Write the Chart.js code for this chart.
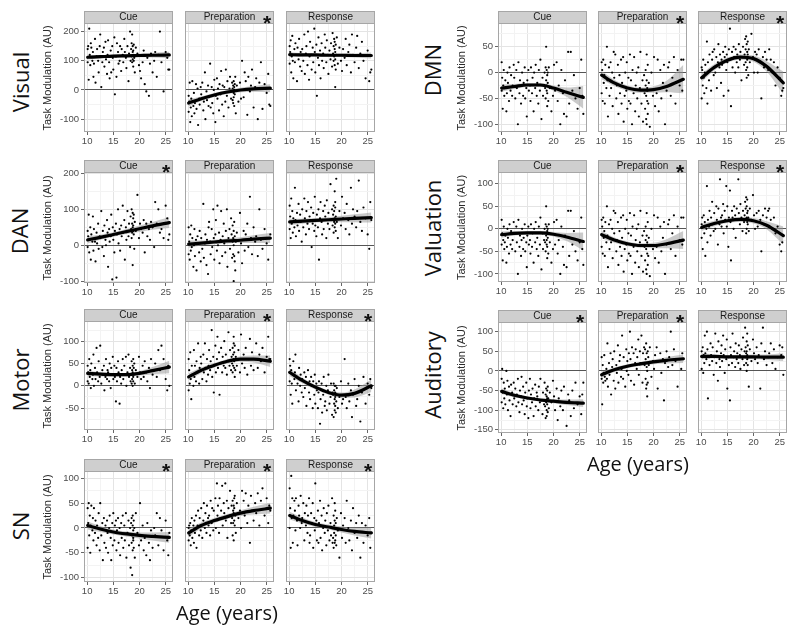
<!DOCTYPE html>
<html>
<head>
<meta charset="utf-8">
<title>Task modulation by age</title>
<script src="https://cdn.jsdelivr.net/npm/chart.js@4.4.1/dist/chart.umd.min.js"></script>
<style>
    body { margin: 0; background: #fff; }
    #fig { position: relative; width: 800px; height: 631px; overflow: hidden; }
    #fig canvas { position: absolute; }
    .lab { position: absolute; font-family: 'Open Sans', sans-serif; color: #111; white-space: nowrap; transform: translate(-50%, -50%); }
    .row { font-size: 22px; transform: translate(-50%, -50%) rotate(-90deg); }
    .age { font-size: 20px; }
</style>
</head>
<body>
<div id="fig"></div>
<script>
// ages of the subjects (shared by every panel)
const ages = [
    10.1, 10.1, 10.2, 10.3, 10.4, 10.5, 10.6, 10.7, 10.8, 11.0,
    11.1, 11.2, 11.3, 11.5, 11.6, 11.8, 11.9, 12.1, 12.2, 12.4,
    12.5, 12.7, 12.9, 13.0, 13.2, 13.3, 13.5, 13.6, 13.8, 13.9,
    14.0, 14.2, 14.3, 14.5, 14.6, 14.8, 14.9, 15.0, 15.2, 15.3,
    15.5, 15.6, 15.7, 15.9, 16.0, 16.2, 16.3, 16.5, 16.6, 16.8,
    16.9, 17.1, 17.2, 17.4, 17.5, 17.7, 17.9, 18.0, 18.2, 18.3,
    18.4, 18.5, 18.5, 18.6, 18.6, 18.7, 18.7, 18.7, 18.8, 18.8,
    18.8, 18.9, 18.9, 19.0, 19.1, 19.3, 19.6, 19.9, 20.1, 20.3,
    20.6, 20.8, 21.0, 21.3, 21.5, 21.8, 22.0, 22.2, 22.5, 22.8,
    23.0, 23.3, 23.6, 23.9, 24.2, 24.6, 25.0, 25.3, 25.5, 25.7
]
// ages where the fitted curves were read
const fitAges = [10.1, 12.5, 15, 17.5, 20, 22.5, 25.7]
const facets = ['Cue', 'Preparation', 'Response']
const xTicks = [10, 15, 20, 25]

// ---- Visual
const visualTicks = [-100, 0, 100, 200]
const visualStars = [false, true, false]
const visualCue = [
    140, 95, 150, 35, 210, 120, 85, 160, 145, 100,
    130, 45, 90, 175, 25, 115, 140, 100, 60, 150,
    190, 10, 95, 130, 145, 80, 165, 105, 55, 120,
    170, 95, 40, 135, 60, 150, 110, 70, 180, -15,
    115, 45, 160, 130, 90, 100, 150, 65, 140, 120,
    95, 175, 130, 110, 75, 150, 30, 125, 200, 100,
    140, 160, 115, 190, 95, 130, 105, 150, 120, 80,
    135, 155, 100, 110, 60, 145, 125, 85, 65, 40,
    95, 135, 20, -5, 110, -20, 90, 125, 60, 100,
    130, 45, 120, 200, 95, -5, 130, 110, 70, 70
]
const visualPrep = [
    -20, -75, -40, 25, -110, -60, -30, -90, 30, -55,
    -10, -80, -45, 20, -65, 5, -120, -30, -50, 10,
    -15, 25, -70, -40, 60, -100, -5, -35, 15, -55,
    -25, 90, -60, 10, -45, -80, 0, 35, -110, -20,
    40, -30, 5, -70, 20, -15, 65, -50, 15, -90,
    10, -40, 70, -20, 30, -60, 5, 45, -30, -5,
    25, -35, 5, -45, 15, -10, 30, -25, 10, -55,
    0, 20, -15, 45, -80, 15, -40, 25, -30, 100,
    -25, 60, 30, -85, 45, -5, 15, 70, -60, 10,
    40, -100, 25, 95, -65, 20, -10, 55, -50, -55
]
const visualResp = [
    150, 90, 130, 170, 60, 115, 185, 100, 40, 140,
    95, 160, 120, 30, 145, 105, 175, 80, 130, 65,
    140, 100, 190, 55, 125, 150, 85, 200, 35, 115,
    165, 120, 70, 145, 95, 210, 130, 60, 155, -20,
    110, 180, 85, 135, 40, 160, 100, 125, 75, 190,
    145, 95, 170, 120, 55, 135, 105, 160, 80, 195,
    125, 150, 100, 175, 115, 85, 140, 165, 10, 130,
    105, 155, 70, 120, 180, 90, 145, 100, 65, 140,
    110, 175, 85, 130, 155, 60, 190, 120, 95, 145,
    185, 75, 125, 165, 100, 40, 135, 30, 60, 70
]
const visualCueFit = [112, 114, 116, 117, 118, 119, 120]
const visualCueLo = [104, 108, 111, 112, 112, 111, 109]
const visualCueHi = [120, 120, 121, 122, 124, 127, 131]
const visualPrepFit = [-45, -30, -17, -7, 0, 4, 6]
const visualPrepLo = [-57, -38, -24, -14, -8, -6, -8]
const visualPrepHi = [-33, -22, -10, 0, 8, 14, 20]
const visualRespFit = [121, 120, 120, 119, 119, 118, 118]
const visualRespLo = [113, 114, 115, 114, 113, 111, 108]
const visualRespHi = [129, 126, 125, 124, 125, 125, 128]

// ---- DAN
const danTicks = [-100, 0, 100, 200]
const danStars = [true, false, false]
const danCue = [
    40, -5, 25, 85, -20, 15, 50, -40, 30, 10,
    80, -15, 45, 10, -45, 35, 5, 60, -10, 25,
    20, 95, -5, 40, -30, 55, 15, 0, 70, 35,
    -60, 45, 10, 25, 85, -95, 50, 15, -20, 40,
    60, -90, 30, 100, 5, 45, -15, 55, 25, 110,
    35, 70, -40, 50, 15, 95, 25, 60, -5, 80,
    45, 100, 20, 60, 35, 90, -55, 50, 75, 40,
    55, 30, 85, -10, 65, 40, 140, 20, 60, 45,
    35, 70, -20, 60, 25, 45, 15, 65, 50, -5,
    120, 60, 100, 35, 45, 20, 110, 75, 15, 30
]
const danPrep = [
    50, -25, 10, -40, 30, -15, 55, -5, 20, -60,
    0, 45, -30, 15, -70, 25, 5, -20, 40, -45,
    20, -10, 115, -35, 5, 30, -55, 15, -80, 50,
    65, 10, -25, 45, -5, 100, 20, -40, 30, 70,
    -15, 110, 0, 35, -50, 15, 95, -30, 25, 60,
    5, -20, 40, 100, -60, 20, 45, -10, 75, 30,
    -35, 10, 55, -25, 20, -100, 40, 0, -30, 15,
    65, -45, 25, -70, 10, 35, -20, 90, 5, -50,
    40, -15, 30, 60, -5, 135, 20, -25, 50, 10,
    25, -30, 100, 15, -10, 45, 5, -40, 20, 30
]
const danResp = [
    110, 45, 80, 20, 130, 60, 95, 35, 75, 50,
    160, 70, 25, 90, 55, 115, 40, 85, 65, 10,
    100, 50, 130, 75, 30, 95, 60, 120, 45, 80,
    70, 105, -5, 60, 90, 40, 135, 55, 25, 85,
    50, 100, -40, 75, 120, 65, 30, 95, 45, 110,
    80, 20, 125, 60, 90, 45, 170, 70, 100, 55,
    85, 35, 110, 65, 95, 50, 150, 75, 120, 60,
    105, 40, 80, 185, 65, 20, 95, 55, 135, 75,
    90, 45, 115, 70, 30, 160, 60, 100, 80, 50,
    95, 180, 65, 40, 105, 75, 30, -10, 120, 70
]
const danCueFit = [15, 22, 30, 38, 46, 54, 63]
const danCueLo = [5, 15, 24, 31, 37, 43, 48]
const danCueHi = [25, 29, 36, 45, 55, 65, 78]
const danPrepFit = [3, 6, 9, 12, 14, 17, 20]
const danPrepLo = [-7, -1, 3, 5, 6, 6, 6]
const danPrepHi = [13, 13, 15, 19, 22, 28, 34]
const danRespFit = [65, 67, 69, 71, 73, 75, 77]
const danRespLo = [56, 60, 63, 64, 64, 64, 63]
const danRespHi = [74, 74, 75, 78, 82, 86, 91]

// ---- Motor
const motorTicks = [-50, 0, 50, 100]
const motorStars = [false, true, true]
const motorCue = [
    45, 10, 30, 5, 60, 20, 35, -5, 50, 15,
    25, 70, 0, 40, 15, 85, 30, 10, 55, 20,
    90, 5, 35, 25, 45, -10, 20, 60, 15, 35,
    30, 10, 50, -5, 40, 25, 65, 15, 45, 20,
    -35, 40, 10, 55, 30, -40, 20, 5, 35, 60,
    15, 45, 25, 65, 0, 30, 70, 20, 40, 10,
    25, 55, 5, 35, 15, 45, 0, 30, 60, 20,
    10, 40, 25, 50, 5, 35, 20, 65, 30, 15,
    45, 20, 55, 30, 10, 40, -5, 60, 25, 35,
    50, 20, 80, 35, 90, 60, 15, -10, 45, 0
]
const motorPrep = [
    60, -10, 35, 5, 75, 15, -30, 45, 25, 0,
    80, 20, 45, 10, 55, 30, 95, 5, 40, 65,
    50, 15, 70, 30, 95, 40, 10, 60, 25, 45,
    80, 35, 55, 125, 20, 65, -15, 45, 90, 30,
    60, 110, 40, 75, -20, 50, 85, 30, 65, 45,
    100, 40, 70, 25, 55, 120, 45, 80, 35, 65,
    50, 85, 30, 70, 45, 95, 60, 110, 40, 75,
    55, 20, 90, 35, 65, 45, 80, 30, 115, 50,
    70, 40, 85, 25, 60, 105, 45, 75, 35, 60,
    95, 40, 70, 55, 85, 30, 65, 110, 60, 60
]
const motorResp = [
    60, 10, 45, -20, 35, 5, -40, 25, 55, 15,
    30, 70, -10, 20, 5, -35, 40, 0, 25, -15,
    15, -25, 30, -5, 20, -45, 5, 35, -15, 10,
    -30, 20, 0, -50, 10, -20, 25, -40, 5, -10,
    -50, -15, 10, -85, -30, 5, -60, -20, 20, -45,
    -35, 0, -55, -10, 25, -40, -25, 5, -65, -15,
    -20, -70, 5, -40, -10, -55, -30, 0, -45, -25,
    -15, -60, 0, -35, -5, -50, -25, 10, -40, -30,
    60, -25, -50, 5, -35, -10, -70, -20, 15, -45,
    -30, 0, -80, -15, 20, -40, 5, -20, 15, -5
]
const motorCueFit = [28, 26, 25, 25, 28, 34, 42]
const motorCueLo = [22, 21, 21, 21, 23, 26, 28]
const motorCueHi = [34, 31, 29, 29, 33, 42, 56]
const motorPrepFit = [20, 35, 46, 55, 60, 60, 55]
const motorPrepLo = [12, 29, 41, 50, 54, 52, 42]
const motorPrepHi = [28, 41, 51, 60, 66, 68, 68]
const motorRespFit = [30, 12, -3, -15, -21, -17, 0]
const motorRespLo = [22, 6, -8, -20, -27, -26, -14]
const motorRespHi = [38, 18, 2, -10, -15, -8, 14]

// ---- SN
const snTicks = [-100, -50, 0, 50, 100]
const snStars = [true, true, true]
const snCue = [
    40, -40, 10, 50, -15, 25, -50, 5, 45, -5,
    20, -25, 40, -10, 15, -35, 5, -20, 30, -45,
    50, -15, 10, -65, 20, -30, 5, -40, 15, -10,
    -50, 0, 25, -20, -65, 10, -35, 30, -25, 5,
    15, -45, -5, 20, -30, 0, -55, 10, -20, 25,
    -40, 5, -25, 30, -60, -10, 15, -35, 0, -80,
    10, -30, 20, -15, -95, 5, -45, 25, -5, -25,
    -20, 15, -40, 0, -60, 30, -10, -35, 50, -25,
    5, -45, -20, -55, 10, -30, -65, -5, -40, 0,
    -15, 30, -35, 20, -5, -45, 15, -25, -55, -10
]
const snPrep = [
    0, -25, 5, -15, 10, -35, -5, 20, -20, 5,
    -30, 15, -10, 25, -40, 5, 35, -15, 20, -5,
    40, -20, 15, 50, 0, 30, -10, 45, 20, 5,
    25, -15, 55, 10, 40, -5, 35, 15, 60, 0,
    90, 25, 45, -10, 60, 20, 35, 85, 5, 50,
    30, 90, 15, 55, -20, 40, 25, 75, 10, 45,
    20, 55, -15, 35, 10, 45, -25, 30, 60, 15,
    40, 5, 65, 25, -10, 50, 20, 35, 0, 75,
    55, 25, 70, 10, 45, -30, 65, 35, 15, 50,
    30, 70, 5, 55, 80, 25, 60, 10, 45, 35
]
const snResp = [
    80, 0, 40, -40, 105, 20, 60, -30, 25, 55,
    35, -5, 60, 15, -35, 45, 25, 0, 65, 10,
    20, 50, -25, 30, 5, 45, -10, 25, 60, -30,
    -15, 30, 10, 50, -40, 20, -5, 90, 15, -25,
    35, -30, 10, 55, -20, 25, -45, 0, 40, -10,
    15, -35, 30, -5, 45, -25, 10, -15, 60, -30,
    -20, 25, -40, 5, -10, 50, -30, 15, -25, 0,
    35, -15, 10, -35, 20, -5, -60, 30, -20, 5,
    20, -30, 55, 0, -25, 15, -45, 40, -10, 10,
    -20, 25, -60, 10, -30, 5, -15, 20, -40, -10
]
const snCueFit = [5, -2, -8, -12, -15, -17, -19]
const snCueLo = [-3, -8, -13, -17, -21, -25, -30]
const snCueHi = [13, 4, -3, -7, -9, -9, -8]
const snPrepFit = [-10, 5, 15, 23, 30, 35, 40]
const snPrepLo = [-18, -1, 10, 18, 24, 27, 29]
const snPrepHi = [-2, 11, 20, 28, 36, 43, 51]
const snRespFit = [25, 15, 7, 2, -3, -7, -10]
const snRespLo = [17, 9, 2, -3, -9, -15, -21]
const snRespHi = [33, 21, 12, 7, 3, 1, 1]

// ---- DMN
const dmnTicks = [-100, -50, 0, 50]
const dmnStars = [false, true, true]
const dmnCue = [
    20, -35, -10, -70, -25, 5, -45, -30, -15, -75,
    -40, 0, -20, -55, 10, -35, -5, -45, -25, 15,
    -10, -50, 5, -30, -100, 20, -40, -15, -60, -25,
    0, -45, -20, 10, -50, -30, -85, -15, 5, -35,
    -25, -55, 10, -40, -10, -75, 0, -30, 15, -45,
    -20, -60, 5, -35, 25, -90, -10, -45, -25, 0,
    -30, 10, -50, -15, 50, -35, 5, -25, -65, -5,
    -40, 0, -20, -55, 10, -30, -75, -45, 15, -35,
    20, -55, -25, -100, 5, -40, -80, -15, -85, 40,
    -60, 40, -35, -5, -50, -70, -30, 25, -45, -80
]
const dmnPrep = [
    20, -40, 5, -55, 25, -20, -5, -60, 15, -30,
    50, -15, -85, 10, -45, 20, -30, 0, -65, 40,
    -10, 35, -50, -25, 15, -80, -5, -40, 25, -60,
    -20, 30, -95, -45, 0, -35, 20, -70, -10, -55,
    35, -60, -15, -100, 5, -40, 30, -75, -25, 0,
    -50, 10, -85, -30, 40, -60, -15, -95, -5, -40,
    -70, -25, 5, -90, -45, 35, -100, -15, -55, -35,
    -30, -80, 15, -60, -20, -105, 0, -45, 30, -65,
    -40, 25, -75, 5, -50, -20, 15, -100, -35, 10,
    20, -45, -10, 30, -60, 5, -25, 25, -35, 25
]
const dmnResp = [
    10, -50, 5, -25, 25, -10, -40, 0, 15, -30,
    60, -60, 20, -15, 35, 5, -35, 25, 40, -5,
    45, 0, 30, -30, 20, 55, 10, 35, -20, 25,
    15, 40, -45, 30, 50, 5, 35, 20, -35, 45,
    85, 25, -65, 40, 10, 50, 30, 0, 45, 20,
    35, 10, 55, 25, 40, -15, 30, 50, 15, 35,
    65, 20, 45, 5, 70, 30, 55, -10, 40, 25,
    10, 60, 35, -5, 45, 20, 75, 30, 0, 40,
    35, 0, 45, 20, -50, 30, 10, 40, 25, 5,
    45, 25, 0, 20, -25, 10, -10, -45, -35, -30
]
const dmnCueFit = [-30, -27, -24, -24, -30, -38, -48]
const dmnCueLo = [-37, -32, -28, -28, -35, -47, -70]
const dmnCueHi = [-23, -22, -20, -20, -25, -29, -26]
const dmnPrepFit = [-5, -20, -30, -34, -33, -27, -13]
const dmnPrepLo = [-13, -26, -35, -39, -39, -38, -40]
const dmnPrepHi = [3, -14, -25, -29, -27, -16, 15]
const dmnRespFit = [-10, 10, 24, 30, 27, 12, -20]
const dmnRespLo = [-18, 4, 19, 25, 21, 2, -42]
const dmnRespHi = [-2, 16, 29, 35, 33, 22, 2]

// ---- Valuation (cue and preparation points repeat the DMN ones in the figure)
const valuationTicks = [-100, -50, 0, 50, 100]
const valuationStars = [false, true, true]
const valuationCue = dmnCue
const valuationPrep = dmnPrep
const valuationResp = [
    10, -20, 25, -45, 5, 30, -10, 15, -60, 0,
    95, -30, 20, 5, 40, -15, 25, 60, 10, -5,
    35, 0, 50, 20, -35, 45, 10, 110, 25, 5,
    30, 55, -10, 40, 20, 95, 5, 50, -40, 25,
    85, 15, -70, 40, 25, 0, 50, 30, -20, 45,
    20, 110, 35, 10, 55, 25, -5, 40, 15, 30,
    60, 20, 45, -10, 70, 25, 50, 0, 35, 15,
    65, 10, 40, 25, -5, 45, 20, 75, 30, 0,
    35, 5, 40, 20, -50, 30, 10, 45, 25, 40,
    45, 20, 0, 25, -10, 5, -35, -50, -30, -15
]
const valuationCueFit = [-13, -10, -9, -9, -12, -18, -28]
const valuationCueLo = [-20, -15, -13, -13, -17, -27, -48]
const valuationCueHi = [-6, -5, -5, -5, -7, -9, -8]
const valuationPrepFit = [-13, -25, -33, -37, -37, -33, -25]
const valuationPrepLo = [-21, -31, -38, -42, -43, -43, -45]
const valuationPrepHi = [-5, -19, -28, -32, -31, -23, -5]
const valuationRespFit = [3, 12, 18, 21, 18, 8, -15]
const valuationRespLo = [-5, 6, 13, 16, 12, -1, -35]
const valuationRespHi = [11, 18, 23, 26, 24, 17, 5]

// ---- Auditory
const auditoryTicks = [-150, -100, -50, 0, 50, 100]
const auditoryStars = [true, true, false]
const auditoryCue = [
    -20, -80, 5, -55, -95, -30, -70, -45, -85, 0,
    -60, -25, -100, -40, -75, -115, -35, -55, -85, -30,
    -70, -45, -90, -60, -20, -80, -105, -50, -65, -15,
    -85, -40, -75, -110, -55, -30, -90, -70, -120, -50,
    -20, -95, -60, -80, -45, -115, -70, -35, -90, -55,
    -65, -100, -40, -80, -20, -75, -110, -55, -85, -30,
    -90, -60, -120, -45, -80, -100, -65, -115, -70, -50,
    -85, -40, -105, -70, -95, -55, -80, -25, -65, -100,
    -45, -125, -70, -90, -50, -100, -40, -80, -140, -60,
    -75, -115, -50, -95, -30, -85, -65, -110, -60, -30
]
const auditoryPrep = [
    35, -20, -85, 15, -30, -5, 40, -15, -25, 5,
    -20, 70, -40, 20, -10, 45, -60, 10, 30, -25,
    50, -45, 15, -5, 65, -30, 25, 40, -15, 5,
    90, -20, 35, 10, -40, 55, 0, 25, -10, 45,
    100, 30, -25, 60, 15, 45, -35, 20, 55, 5,
    35, 80, -10, 50, 20, 90, -30, 45, 60, 15,
    55, -20, 30, -45, 70, 10, -35, 45, 20, -65,
    0, 50, -30, 35, 15, 60, -15, 25, 5, 40,
    60, -45, 25, 45, -5, 30, -75, 20, 50, 10,
    35, 100, 15, 55, 25, -40, 30, 5, 45, 30
]
const auditoryResp = [
    50, 5, 35, 60, -5, 40, 20, 90, 45, 30,
    100, 55, -70, 35, 15, 70, 40, 25, 60, -10,
    35, 95, 20, 50, -25, 75, 30, 10, 45, 65,
    25, 90, 40, -5, 55, 30, 80, -45, 35, 15,
    -75, 60, 40, 20, 95, 35, 50, 10, 70, 30,
    45, 20, 65, 40, 5, 55, 30, 85, 15, 50,
    110, 35, 60, 20, 45, 75, 0, 50, 95, 30,
    40, 15, 65, 35, -40, 55, 25, 80, 45, 30,
    60, 20, 40, -45, 70, 110, 30, 50, 15, 35,
    45, 70, 20, 55, 5, 35, 65, 40, 60, -10
]
const auditoryCueFit = [-52, -62, -69, -74, -77, -80, -82]
const auditoryCueLo = [-59, -67, -73, -78, -82, -87, -92]
const auditoryCueHi = [-45, -57, -65, -70, -72, -73, -72]
const auditoryPrepFit = [-10, 3, 12, 18, 23, 27, 31]
const auditoryPrepLo = [-18, -3, 7, 13, 17, 19, 20]
const auditoryPrepHi = [-2, 9, 17, 23, 29, 35, 42]
const auditoryRespFit = [37, 37, 36, 36, 36, 35, 35]
const auditoryRespLo = [29, 32, 32, 31, 30, 28, 25]
const auditoryRespHi = [45, 42, 40, 41, 42, 42, 45]


// layout of the figure
const SANS = "'Liberation Sans', Arial, Helvetica, sans-serif"
const PW = 93, STRIP = 13, XAX = 18, YAX = 48, YPAD = 6
const X_MIN = 9.4, X_MAX = 26.4
const LEFT = [84, 185, 286], RIGHT = [498, 598, 698]

const rows = [
    { name: 'Visual', cols: LEFT, top: 11, h: 108, yMin: -144, yMax: 226, ticks: visualTicks, stars: visualStars, lx: 20, ly: 82,
      panels: [[visualCue, visualCueFit, visualCueLo, visualCueHi], [visualPrep, visualPrepFit, visualPrepLo, visualPrepHi], [visualResp, visualRespFit, visualRespLo, visualRespHi]] },
    { name: 'DAN', cols: LEFT, top: 160, h: 110, yMin: -105, yMax: 201, ticks: danTicks, stars: danStars, lx: 19, ly: 231,
      panels: [[danCue, danCueFit, danCueLo, danCueHi], [danPrep, danPrepFit, danPrepLo, danPrepHi], [danResp, danRespFit, danRespLo, danRespHi]] },
    { name: 'Motor', cols: LEFT, top: 309, h: 108, yMin: -99, yMax: 143, ticks: motorTicks, stars: motorStars, lx: 20, ly: 380,
      panels: [[motorCue, motorCueFit, motorCueLo, motorCueHi], [motorPrep, motorPrepFit, motorPrepLo, motorPrepHi], [motorResp, motorRespFit, motorRespLo, motorRespHi]] },
    { name: 'SN', cols: LEFT, top: 459, h: 110, yMin: -109, yMax: 113, ticks: snTicks, stars: snStars, lx: 20, ly: 526,
      panels: [[snCue, snCueFit, snCueLo, snCueHi], [snPrep, snPrepFit, snPrepLo, snPrepHi], [snResp, snRespFit, snRespLo, snRespHi]] },
    { name: 'DMN', cols: RIGHT, top: 11, h: 108, yMin: -115, yMax: 94, ticks: dmnTicks, stars: dmnStars, lx: 432, ly: 70,
      panels: [[dmnCue, dmnCueFit, dmnCueLo, dmnCueHi], [dmnPrep, dmnPrepFit, dmnPrepLo, dmnPrepHi], [dmnResp, dmnRespFit, dmnRespLo, dmnRespHi]] },
    { name: 'Valuation', cols: RIGHT, top: 160, h: 109, yMin: -118, yMax: 124, ticks: valuationTicks, stars: valuationStars, lx: 432, ly: 228,
      panels: [[valuationCue, valuationCueFit, valuationCueLo, valuationCueHi], [valuationPrep, valuationPrepFit, valuationPrepLo, valuationPrepHi], [valuationResp, valuationRespFit, valuationRespLo, valuationRespHi]] },
    { name: 'Auditory', cols: RIGHT, top: 310, h: 110, yMin: -158, yMax: 122, ticks: auditoryTicks, stars: auditoryStars, lx: 432, ly: 375,
      panels: [[auditoryCue, auditoryCueFit, auditoryCueLo, auditoryCueHi], [auditoryPrep, auditoryPrepFit, auditoryPrepLo, auditoryPrepHi], [auditoryResp, auditoryRespFit, auditoryRespLo, auditoryRespHi]] },
]

const fig = document.getElementById('fig')
const pairs = (xs, ys) => xs.map((x, i) => ({ x: x, y: ys[i] }))

// major ticks plus the ggplot-style minor ones half way between
function tickList(major, lo, hi) {
    const half = (major[1] - major[0]) / 2
    let v = major[0]
    while (v - half >= lo) v -= half
    const out = []
    for (; v <= hi; v += half) out.push(v)
    return out
}

// grey strip on top of each panel, panel border, significance star
const stripPlugin = {
    id: 'strip',
    beforeDraw(chart) {
        const { ctx, chartArea: a } = chart
        ctx.save()
        ctx.fillStyle = '#cfcfcf'
        ctx.fillRect(a.left, 0, a.right - a.left, a.top)
        ctx.restore()
    },
    afterDraw(chart, args, opts) {
        const { ctx, chartArea: a } = chart
        ctx.save()
        ctx.strokeStyle = '#a6a6a6'
        ctx.lineWidth = 1
        ctx.strokeRect(a.left + 0.5, 0.5, a.right - a.left - 1, a.bottom - 1)
        ctx.beginPath()
        ctx.moveTo(a.left, a.top - 0.5)
        ctx.lineTo(a.right, a.top - 0.5)
        ctx.stroke()
        if (opts.star) {
            ctx.fillStyle = '#111'
            ctx.font = 'bold 21px ' + SANS
            ctx.textAlign = 'center'
            ctx.textBaseline = 'alphabetic'
            ctx.fillText('*', a.right - 7, 18.5)
        }
        ctx.restore()
    }
}

function makePanel(row, j) {
    const first = j === 0
    const yw = first ? YAX : YPAD
    const canvas = document.createElement('canvas')
    canvas.width = yw + PW
    canvas.height = STRIP + row.h + XAX
    canvas.style.left = (row.cols[j] - yw) + 'px'
    canvas.style.top = row.top + 'px'
    fig.appendChild(canvas)

    const [pts, fit, lo, hi] = row.panels[j]
    const xList = tickList(xTicks, X_MIN, X_MAX)
    const yList = tickList(row.ticks, row.yMin, row.yMax)
    const tickFont = { family: SANS, size: 9.5 }

    new Chart(canvas, {
        type: 'scatter',
        data: {
            datasets: [
                { type: 'line', data: pairs(fitAges, fit), borderColor: '#000', borderWidth: 3.2,
                  borderCapStyle: 'round', pointRadius: 0, cubicInterpolationMode: 'monotone', order: 0 },
                { data: pairs(ages, pts), pointRadius: 1.1, pointBackgroundColor: '#000',
                  pointBorderWidth: 0, order: 1 },
                { type: 'line', data: pairs(fitAges, lo), borderWidth: 0, pointRadius: 0,
                  cubicInterpolationMode: 'monotone', fill: false, order: 2 },
                { type: 'line', data: pairs(fitAges, hi), borderWidth: 0, pointRadius: 0,
                  cubicInterpolationMode: 'monotone', fill: '-1', backgroundColor: 'rgba(150,150,150,0.5)', order: 2 },
            ]
        },
        options: {
            responsive: false,
            animation: false,
            devicePixelRatio: 1,
            layout: { padding: 0 },
            events: [],
            plugins: {
                legend: { display: false },
                tooltip: { enabled: false },
                title: {
                    display: true, text: facets[j], fullSize: false, padding: 0, color: '#1a1a1a',
                    font: { family: SANS, size: 10, weight: 'normal', lineHeight: STRIP / 10 }
                },
                strip: { star: row.stars[j] }
            },
            scales: {
                x: {
                    type: 'linear', min: X_MIN, max: X_MAX,
                    afterBuildTicks: s => { s.ticks = xList.map(v => ({ value: v })) },
                    afterFit: s => { s.height = XAX; s.paddingLeft = 0; s.paddingRight = 0 },
                    border: { display: false },
                    grid: {
                        color: c => (c.tick && xTicks.includes(c.tick.value)) ? '#e4e4e4' : '#f3f3f3',
                        tickLength: 3,
                        tickColor: c => (c.tick && xTicks.includes(c.tick.value)) ? '#666' : 'rgba(0,0,0,0)'
                    },
                    ticks: {
                        autoSkip: false, maxRotation: 0, padding: 1, color: '#4d4d4d', font: tickFont,
                        callback: v => xTicks.includes(v) ? String(v) : ''
                    }
                },
                y: {
                    type: 'linear', min: row.yMin, max: row.yMax,
                    afterBuildTicks: s => { s.ticks = yList.map(v => ({ value: v })) },
                    afterFit: s => { s.width = yw; s.paddingTop = 0; s.paddingBottom = 0 },
                    border: { display: false },
                    grid: {
                        color: c => {
                            if (!c.tick) return '#e4e4e4'
                            if (c.tick.value === 0) return '#555'
                            return row.ticks.includes(c.tick.value) ? '#e4e4e4' : '#f3f3f3'
                        },
                        drawTicks: first,
                        tickLength: 3,
                        tickColor: c => (c.tick && row.ticks.includes(c.tick.value)) ? '#666' : 'rgba(0,0,0,0)'
                    },
                    ticks: {
                        display: first, autoSkip: false, padding: 2, color: '#4d4d4d', font: tickFont,
                        callback: v => row.ticks.includes(v) ? String(v) : ''
                    },
                    title: {
                        display: first, text: 'Task Modulation (AU)', color: '#2b2b2b',
                        font: { family: SANS, size: 11 }, padding: { top: 5, bottom: 0 }
                    }
                }
            }
        },
        plugins: [stripPlugin]
    })
}

function addLabel(text, cls, x, y) {
    const d = document.createElement('div')
    d.className = 'lab ' + cls
    d.textContent = text
    d.style.left = x + 'px'
    d.style.top = y + 'px'
    fig.appendChild(d)
}

for (const row of rows) {
    for (let j = 0; j < 3; j++) makePanel(row, j)
    addLabel(row.name, 'row', row.lx, row.ly)
}
addLabel('Age (years)', 'age', 227, 612)
addLabel('Age (years)', 'age', 638, 463)
</script>
</body>
</html>
